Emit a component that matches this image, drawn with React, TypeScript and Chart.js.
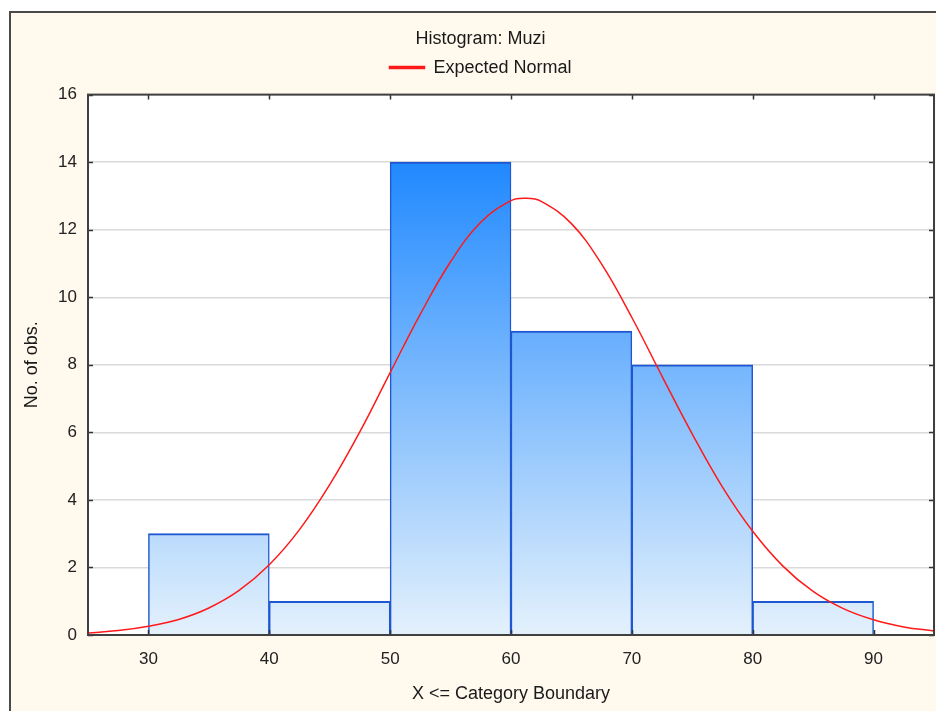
import React, { useEffect, useRef } from "react";
import { Chart, registerables } from "chart.js";

Chart.register(...registerables);

// ---- Data ----
const binStarts = [30, 40, 50, 60, 70, 80];
const binEnds = [40, 50, 60, 70, 80, 90];
const counts = [3, 1, 14, 9, 8, 1];

const normalX = [25, 27.5, 30, 32.5, 35, 37.5, 40, 42.5, 45, 47.5, 50, 52.5, 55, 57.5, 60, 61.2, 62.5, 65, 67.5, 70, 72.5, 75, 77.5, 80, 82.5, 85, 87.5, 90, 92.5, 95];
const normalY = [0.06, 0.13, 0.26, 0.46, 0.8, 1.32, 2.08, 3.12, 4.45, 6.02, 7.77, 9.5, 11.05, 12.22, 12.86, 12.93, 12.84, 12.18, 10.98, 9.4, 7.66, 5.95, 4.38, 3.07, 2.04, 1.29, 0.78, 0.45, 0.24, 0.12];

const xTicks = [30, 40, 50, 60, 70, 80, 90];
const yTicks = [0, 2, 4, 6, 8, 10, 12, 14, 16];

const titleText = "Histogram: Muzi";
const legendText = "Expected Normal";
const xTitle = "X <= Category Boundary";
const yTitle = "No. of obs.";

const FONT = "'Liberation Sans', Arial, sans-serif";

const framePlugin = {
  id: "frame",
  beforeDraw(chart: any) {
    const { ctx, width, height, chartArea } = chart;
    ctx.save();
    ctx.fillStyle = "#ffffff";
    ctx.fillRect(0, 0, width, height);
    ctx.fillStyle = "#fff9ee";
    ctx.fillRect(9, 11, width - 9, height - 11);
    ctx.strokeStyle = "#4a4a4a";
    ctx.lineWidth = 2;
    ctx.beginPath();
    ctx.moveTo(10, height);
    ctx.lineTo(10, 12);
    ctx.lineTo(width, 12);
    ctx.stroke();
    ctx.fillStyle = "#ffffff";
    ctx.fillRect(chartArea.left, chartArea.top, chartArea.right - chartArea.left, chartArea.bottom - chartArea.top);
    ctx.restore();
  },
  afterDraw(chart: any) {
    const { ctx, chartArea, scales } = chart;
    const { left, right, top, bottom } = chartArea;
    ctx.save();
    ctx.strokeStyle = "#333333";
    ctx.lineWidth = 1.5;
    ctx.beginPath();
    xTicks.forEach((v) => {
      const px = Math.round(scales.x.getPixelForValue(v)) + 0.5;
      ctx.moveTo(px, top);
      ctx.lineTo(px, top + 5);
      ctx.moveTo(px, bottom);
      ctx.lineTo(px, bottom - 5);
    });
    yTicks.forEach((v) => {
      const py = Math.round(scales.y.getPixelForValue(v)) + 0.5;
      ctx.moveTo(left, py);
      ctx.lineTo(left + 5, py);
      ctx.moveTo(right, py);
      ctx.lineTo(right - 5, py);
    });
    ctx.stroke();
    ctx.strokeStyle = "#404040";
    ctx.lineWidth = 2;
    ctx.strokeRect(left, top, right - left, bottom - top);
    ctx.restore();
  },
};

function barGradient(context: any) {
  const chart = context.chart;
  const area = chart.chartArea;
  if (!area) return "#6ab0ff";
  const g = chart.ctx.createLinearGradient(0, area.top, 0, area.bottom);
  g.addColorStop(0, "rgb(4,122,255)");
  g.addColorStop(1, "rgb(228,241,252)");
  return g;
}

export default function App() {
  const ref = useRef<HTMLCanvasElement>(null);

  useEffect(() => {
    if (!ref.current) return;
    const barData = binStarts.map((s, i) => ({ x: (s + binEnds[i]) / 2, y: counts[i] }));
    const lineData = normalX.map((x, i) => ({ x, y: normalY[i] }));

    const chart = new Chart(ref.current, {
      type: "bar",
      data: {
        datasets: [
          {
            type: "line",
            label: legendText,
            data: lineData,
            borderColor: "#ff1a1a",
            backgroundColor: "#ff1a1a",
            borderWidth: 1.5,
            pointRadius: 0,
            tension: 0.4,
            fill: false,
          } as any,
          {
            type: "bar",
            label: "Bars",
            data: barData,
            backgroundColor: barGradient,
            borderColor: "#1f57d2",
            borderWidth: { top: 2, left: 1.5, right: 1.5, bottom: 0 },
            borderSkipped: false,
            barPercentage: 1,
            categoryPercentage: 1,
          } as any,
        ],
      },
      options: {
        responsive: false,
        devicePixelRatio: 1,
        animation: false,
        layout: { padding: { left: 27, right: 27, top: 0, bottom: 0 } },
        plugins: {
          title: {
            display: true,
            text: titleText,
            color: "#1a1a1a",
            font: { family: FONT, size: 18, weight: "normal" },
            padding: { top: 28, bottom: 0 },
          },
          legend: {
            display: true,
            labels: {
              color: "#1a1a1a",
              font: { family: FONT, size: 18 },
              boxWidth: 35,
              boxHeight: 2,
              padding: 9,
              filter: (item: any) => item.text === legendText,
            },
          },
          tooltip: { enabled: false },
        },
        scales: {
          x: {
            type: "linear",
            min: 25,
            max: 95,
            offset: false,
            afterBuildTicks: (scale: any) => {
              scale.ticks = xTicks.map((v) => ({ value: v }));
            },
            afterFit: (scale: any) => {
              scale.height = 76;
            },
            grid: { display: false, drawTicks: false, offset: false },
            border: { display: false },
            ticks: { color: "#222222", font: { family: FONT, size: 17 }, padding: 14, maxRotation: 0 },
            title: {
              display: true,
              text: xTitle,
              color: "#1a1a1a",
              font: { family: FONT, size: 18 },
              padding: { top: 0, bottom: 6 },
            },
          },
          xTop: {
            type: "linear",
            position: "top",
            min: 25,
            max: 95,
            offset: false,
            afterFit: (scale: any) => {
              scale.height = 8;
            },
            grid: { display: false, drawTicks: false },
            border: { display: false },
            ticks: { display: false },
          },
          y: {
            type: "linear",
            min: 0,
            max: 16,
            afterBuildTicks: (scale: any) => {
              scale.ticks = yTicks.map((v) => ({ value: v }));
            },
            afterFit: (scale: any) => {
              scale.width = 61;
            },
            grid: { display: true, drawTicks: false, color: "#dadada", lineWidth: 1.5 },
            border: { display: false },
            ticks: { color: "#222222", font: { family: FONT, size: 17 }, padding: 11 },
            title: {
              display: true,
              text: yTitle,
              color: "#1a1a1a",
              font: { family: FONT, size: 18 },
              padding: { top: -6, bottom: 0 },
            },
          },
        },
      },
      plugins: [framePlugin],
    });
    return () => chart.destroy();
  }, []);

  return (
    <div style={{ position: "fixed", left: 0, top: 0, width: 936, height: 711, overflow: "hidden", background: "#ffffff" }}>
      <canvas ref={ref} width={961} height={711} style={{ display: "block", width: 961, height: 711 }} />
    </div>
  );
}
